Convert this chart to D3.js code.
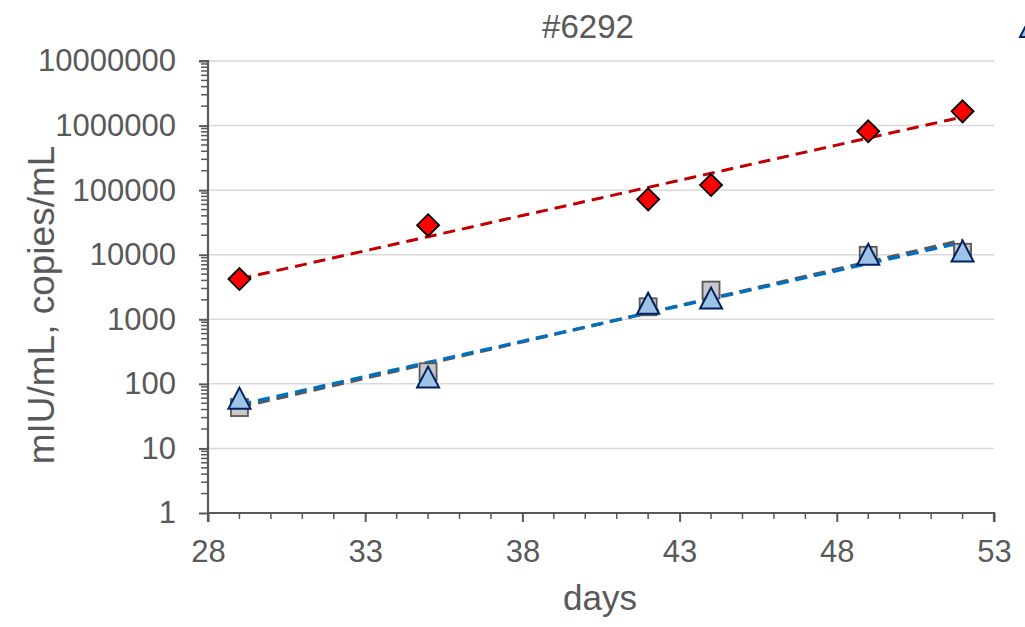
<!DOCTYPE html>
<html>
<head>
<meta charset="utf-8">
<script src="https://cdn.jsdelivr.net/npm/d3@7/dist/d3.min.js"></script>
<style>
  html, body { margin: 0; padding: 0; background: #fff; }
  svg { display: block; }
  text { font-family: "Liberation Sans", Arial, sans-serif; fill: #595959; }
</style>
</head>
<body>
<svg id="chart" width="1025" height="627"></svg>
<script>
// Sample days and measured levels for case #6292
const days = [29, 35, 42, 44, 49, 52];
const hcgValues = [4200, 28700, 72000, 120000, 815000, 1660000];
const grayValues = [43, 154, 1560, 2830, 9800, 10900];
const blueValues = [59, 125, 1740, 2090, 9960, 11200];

const xTicks = [28, 33, 38, 43, 48, 53];
const yTicks = [1, 10, 100, 1000, 10000, 100000, 1000000, 10000000];

const chartTitle = "#6292";
const xTitle = "days";
const yTitle = "mIU/mL, copies/mL";

const svg = d3.select("#chart");
const plotLeft = 208, plotRight = 994, plotTop = 61, plotBottom = 513;

const x = d3.scaleLinear().domain([28, 53]).range([plotLeft, plotRight]);
const y = d3.scaleLog().domain([1, 10000000]).range([plotBottom, plotTop]);

// horizontal gridlines at each decade
svg.append("g").selectAll("line").data(yTicks.slice(1)).join("line")
  .attr("x1", plotLeft).attr("x2", plotRight)
  .attr("y1", d => y(d)).attr("y2", d => y(d))
  .attr("stroke", "#d9d9d9").attr("stroke-width", 1.5);

// y axis: decades with log minor ticks
const yMinor = [];
for (let e = 0; e < 7; e++) for (let m = 2; m <= 9; m++) yMinor.push(m * Math.pow(10, e));
const yAxis = d3.axisLeft(y).tickValues(yTicks).tickFormat(d3.format("d")).tickSize(9).tickPadding(23);
const gy = svg.append("g").attr("transform", `translate(${plotLeft},0)`).call(yAxis);
gy.selectAll(".tick text").style("font-size", "31px").attr("fill", "#595959");
gy.append("g").selectAll("line").data(yMinor).join("line")
  .attr("x1", -7).attr("x2", 0).attr("y1", d => y(d)).attr("y2", d => y(d))
  .attr("stroke", "#595959").attr("stroke-width", 1.5);

// x axis: major every 5 days, minor every day
const xAxis = d3.axisBottom(x).tickValues(xTicks).tickSize(9).tickPadding(18);
const gx = svg.append("g").attr("transform", `translate(0,${plotBottom})`).call(xAxis);
gx.selectAll(".tick text").style("font-size", "31px").attr("fill", "#595959");
gx.append("g").selectAll("line").data(d3.range(28, 54).filter(d => (d - 28) % 5 !== 0)).join("line")
  .attr("x1", d => x(d)).attr("x2", d => x(d)).attr("y1", 0).attr("y2", 6)
  .attr("stroke", "#595959").attr("stroke-width", 1.5);

[gx, gy].forEach(g => {
  g.select(".domain").attr("stroke", "#595959").attr("stroke-width", 2.2);
  g.selectAll(".tick line").attr("stroke", "#595959").attr("stroke-width", 2);
});
gy.select(".domain").attr("d", `M-9,${plotTop}H0V${plotBottom}`);
gx.select(".domain").attr("d", `M${plotLeft},9V0H${plotRight}V9`);

// exponential least-squares fit (regression on log10 values)
function expFit(xs, ys) {
  const ls = ys.map(v => Math.log10(v));
  const mx = d3.mean(xs), ml = d3.mean(ls);
  const b = d3.sum(xs, (v, i) => (v - mx) * (ls[i] - ml)) / d3.sum(xs, v => (v - mx) ** 2);
  const a = ml - b * mx;
  return t => Math.pow(10, a + b * t);
}
function trend(vals, color, width) {
  const f = expFit(days, vals);
  const pts = d3.range(days[0], days[days.length - 1] + 0.001, 0.5);
  svg.append("path")
    .attr("d", d3.line().x(d => x(d)).y(d => y(f(d)))(pts))
    .attr("fill", "none").attr("stroke", color).attr("stroke-width", width)
    .attr("stroke-dasharray", "12,7");
}
trend(grayValues, "#595959", 3.2);
trend(blueValues, "#0070c0", 3.2);
trend(hcgValues, "#c00000", 3);

// markers
svg.append("g").selectAll("rect").data(days).join("rect")
  .attr("x", (d, i) => x(d) - 8.5).attr("y", (d, i) => y(grayValues[i]) - 8.5)
  .attr("width", 17).attr("height", 17)
  .attr("fill", "#c8c8c8").attr("stroke", "#595959").attr("stroke-width", 1.8);

const tri = "M0,-11L11,10H-11Z";
svg.append("g").selectAll("path").data(days).join("path")
  .attr("d", tri)
  .attr("transform", (d, i) => `translate(${x(d)},${y(blueValues[i])})`)
  .attr("fill", "#9dc3e6").attr("stroke", "#002060").attr("stroke-width", 2);

svg.append("g").selectAll("path").data(days).join("path")
  .attr("d", "M0,-11L11,0L0,11L-11,0Z")
  .attr("transform", (d, i) => `translate(${x(d)},${y(hcgValues[i])})`)
  .attr("fill", "#ff0000").attr("stroke", "#000").attr("stroke-width", 1.8);

// legend key at the right edge
svg.append("path").attr("d", tri)
  .attr("transform", "translate(1031,27)")
  .attr("fill", "#9dc3e6").attr("stroke", "#002060").attr("stroke-width", 2);

// titles
svg.append("text").attr("x", 588).attr("y", 38).attr("text-anchor", "middle")
  .style("font-size", "33px").text(chartTitle);
svg.append("text").attr("x", 600).attr("y", 610).attr("text-anchor", "middle")
  .style("font-size", "35px").text(xTitle);
svg.append("text").attr("transform", "translate(54,305) rotate(-90)").attr("text-anchor", "middle")
  .style("font-size", "37px").text(yTitle);
</script>
</body>
</html>
